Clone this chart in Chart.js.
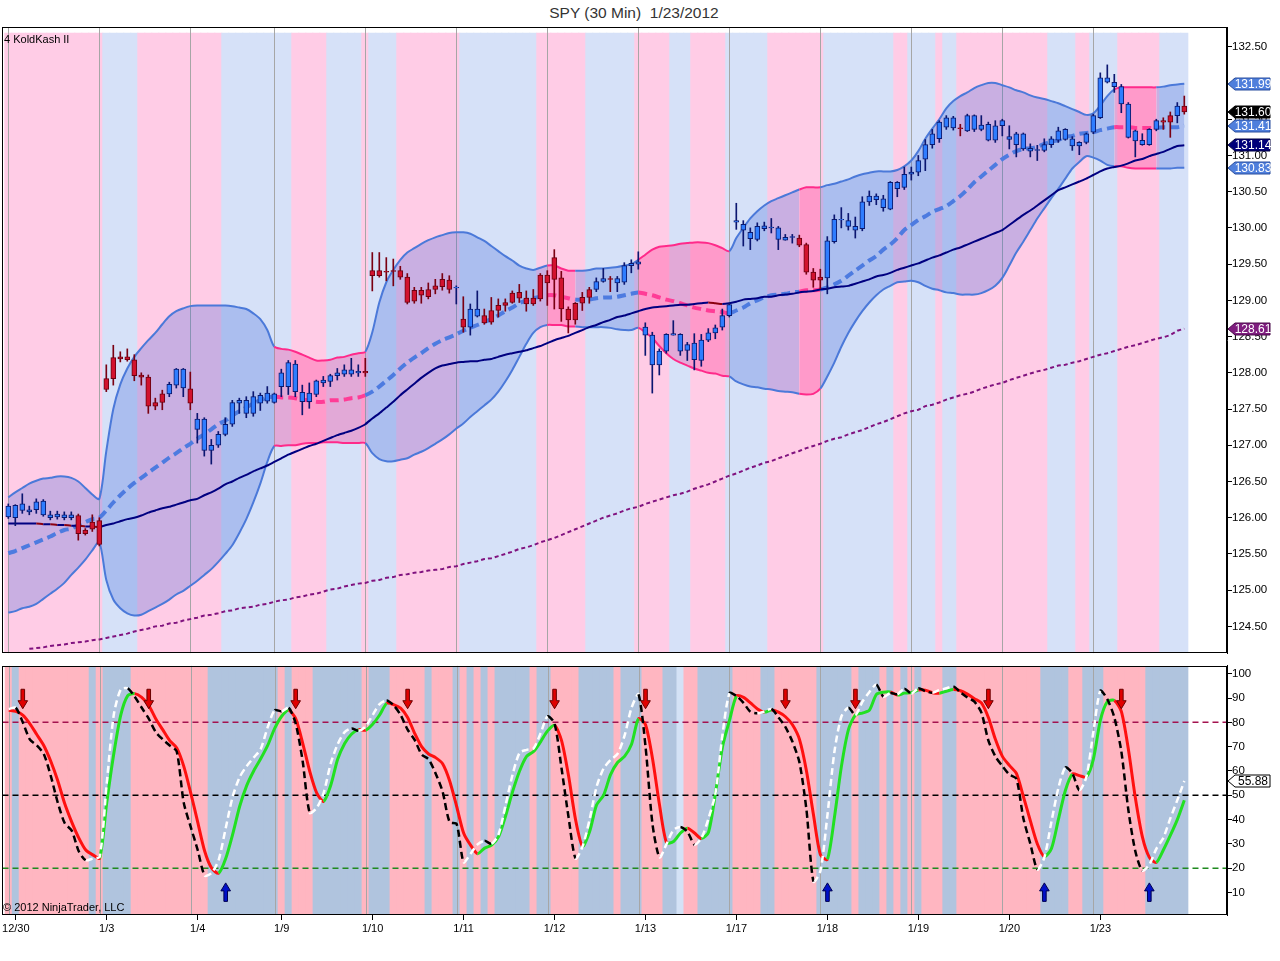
<!DOCTYPE html>
<html><head><meta charset="utf-8">
<script src="https://cdn.jsdelivr.net/npm/chart.js@4.4.1/dist/chart.umd.min.js"></script>
<style>
html,body{margin:0;padding:0;background:#fff;width:1280px;height:961px;overflow:hidden;font-family:"Liberation Sans",Arial,sans-serif;}
#title{position:absolute;left:0;top:4px;width:1268px;text-align:center;font-size:15.5px;color:#333;white-space:pre;}
#c1{position:absolute;left:0;top:0;}
#c2{position:absolute;left:0;top:659px;}
#ind{position:absolute;left:4px;top:33px;font-size:11px;color:#000;}
#copy{position:absolute;left:3px;top:901px;font-size:11px;color:#000;}
</style></head><body>
<div id="title">SPY (30 Min)  1/23/2012</div>
<canvas id="c1" width="1280" height="660"></canvas>
<canvas id="c2" width="1280" height="302"></canvas>
<div id="ind">4 KoldKash II</div>
<div id="copy">© 2012 NinjaTrader, LLC</div>
<script>
// ---------- DATA (30-min bars, index 0 = last bar of 12/29) ----------
const dayLabels = ['12/30','1/3','1/4','1/9','1/10','1/11','1/12','1/13','1/17','1/18','1/19','1/20','1/23'];
const dayStart  = [1,14,27,39,52,65,78,91,104,117,130,143,156];
const dayEnd    = [0,13,26,38,51,64,77,90,103,116,129,142,155];
const priceTicks = [124.5,125,125.5,126,126.5,127,127.5,128,128.5,129,129.5,130,130.5,131,131.5,132,132.5];
const oscTicks = [10,20,30,40,50,60,70,80,90,100];
const oscLevels = [80,50,20];
const sellArrows = [2,20,41,57,78,91,111,121,140,159];
const buyArrows = [31,117,148,163];

const opens = [126.01,126.00,126.10,126.08,126.11,126.04,126.00,126.01,126.00,126.00,
126.03,125.83,125.94,125.96,127.92,128.21,128.22,128.22,128.18,127.97,
127.94,127.59,127.71,127.71,127.83,127.79,127.78,127.22,126.93,126.93,
127.00,127.15,127.29,127.58,127.44,127.44,127.58,127.61,127.59,127.81,
127.81,127.74,127.60,127.60,127.70,127.86,127.88,127.96,127.98,127.98,
128.00,128.02,129.41,129.41,129.40,129.41,129.41,129.32,129.14,129.14,
129.15,129.20,129.29,129.28,129.17,128.74,128.63,128.78,128.79,128.86,
128.93,128.97,129.10,129.11,129.03,129.03,129.35,129.35,129.59,129.31,
128.88,128.96,129.04,129.15,129.15,129.26,129.30,129.24,129.25,129.48,
129.50,128.52,128.11,128.11,128.30,128.52,128.30,128.31,128.18,128.17,
128.45,128.55,128.63,128.79,130.08,129.97,129.85,129.84,129.99,130.00,
129.84,129.83,129.87,129.86,129.77,129.39,129.32,129.31,129.81,130.11,
130.02,129.97,129.99,130.36,130.39,130.28,130.26,130.54,130.56,130.74,
130.77,130.95,131.15,131.23,131.39,131.38,131.38,131.34,131.36,131.36,
131.21,131.21,131.41,131.22,131.15,131.09,131.06,131.07,131.07,131.15,
131.21,131.22,131.13,131.13,131.18,131.32,131.52,132.01,131.95,131.71,
131.25,131.20,131.15,131.15,131.36,131.48,131.55,131.55,131.68];
const highs = [126.19,126.18,126.33,126.16,126.26,126.25,126.09,126.09,126.08,126.08,
126.05,125.85,126.04,126.00,128.11,128.38,128.29,128.33,128.25,128.00,
127.97,127.65,127.76,127.87,128.06,128.06,128.01,127.44,127.38,127.08,
127.19,127.38,127.62,127.65,127.67,127.74,127.72,127.81,127.72,128.05,
128.17,128.17,127.83,127.86,127.90,127.95,127.98,128.06,128.11,128.20,
128.11,128.20,129.66,129.66,129.59,129.57,129.47,129.37,129.18,129.18,
129.24,129.29,129.37,129.34,129.20,129.05,128.95,129.13,128.88,129.04,
129.02,129.02,129.13,129.22,129.13,129.15,129.37,129.41,129.70,129.40,
128.91,128.97,129.11,129.18,129.31,129.44,129.33,129.33,129.52,129.56,
129.67,128.69,128.56,128.33,128.54,128.72,128.54,128.42,128.54,128.53,
128.61,128.66,128.88,128.96,130.34,130.10,130.00,130.07,130.08,130.13,
130.02,129.91,129.91,129.90,129.79,129.44,129.43,129.88,130.18,130.28,
130.20,130.15,130.43,130.51,130.47,130.45,130.64,130.64,130.84,130.84,
131.00,131.22,131.36,131.48,131.55,131.54,131.43,131.57,131.56,131.55,
131.46,131.48,131.50,131.41,131.32,131.31,131.16,131.14,131.23,131.26,
131.39,131.37,131.26,131.19,131.31,131.57,132.14,132.25,132.12,131.98,
131.73,131.35,131.30,131.37,131.50,131.52,131.60,131.73,131.82];
const lows = [125.99,125.89,126.06,126.04,126.06,126.02,125.97,125.98,125.97,125.97,
125.69,125.76,125.81,125.61,127.74,127.83,128.15,128.16,127.89,127.83,
127.44,127.49,127.49,127.67,127.79,127.67,127.49,127.03,126.85,126.74,
126.97,127.13,127.26,127.44,127.38,127.40,127.48,127.58,127.58,127.67,
127.70,127.67,127.42,127.51,127.67,127.81,127.81,127.90,127.95,127.95,
127.95,127.95,129.13,129.32,129.27,129.20,129.29,128.95,128.96,128.96,
129.02,129.09,129.14,129.10,128.95,128.56,128.52,128.77,128.67,128.67,
128.77,128.85,128.96,128.97,128.85,128.93,128.99,128.93,128.88,128.71,
128.55,128.67,128.86,128.96,129.12,129.25,129.12,129.12,129.22,129.38,
129.43,128.24,127.72,127.97,128.27,128.52,128.24,128.17,128.04,128.09,
128.43,128.47,128.59,128.77,129.98,129.75,129.70,129.82,129.96,129.93,
129.70,129.83,129.79,129.74,129.36,129.18,129.16,129.09,129.79,130.00,
129.97,129.86,129.96,130.31,130.32,130.23,130.25,130.43,130.53,130.66,
130.72,130.79,131.10,131.18,131.36,131.35,131.27,131.33,131.33,131.34,
131.20,131.18,131.27,131.09,130.98,131.07,130.98,130.93,131.05,131.11,
131.18,131.21,131.07,131.01,131.16,131.30,131.51,132.00,131.87,131.59,
131.24,130.98,131.14,131.14,131.34,131.36,131.25,131.45,131.57];
const closes = [126.16,126.17,126.19,126.11,126.22,126.23,126.04,126.05,126.04,126.04,
125.78,125.78,125.84,125.63,127.77,127.92,128.19,128.18,127.96,127.94,
127.54,127.54,127.59,127.84,128.05,128.05,127.58,127.36,127.36,127.00,
127.15,127.29,127.59,127.62,127.62,127.67,127.69,127.72,127.71,128.00,
128.14,128.12,127.73,127.72,127.89,127.90,127.96,128.00,128.04,128.04,
128.02,128.00,129.34,129.34,129.39,129.40,129.32,128.97,128.99,129.07,
129.05,129.15,129.19,129.15,129.18,128.63,128.88,128.88,128.69,128.70,
128.86,128.93,128.97,129.03,128.95,128.95,129.02,129.24,129.29,128.88,
128.73,128.73,128.96,129.04,129.26,129.30,129.29,129.30,129.48,129.51,
129.53,128.63,128.52,128.30,128.53,128.54,128.53,128.39,128.41,128.45,
128.55,128.62,128.79,128.94,130.10,130.05,129.94,130.02,130.03,130.01,
130.00,129.87,129.88,129.76,129.39,129.28,129.28,129.82,130.12,130.12,
130.10,130.02,130.36,130.44,130.44,130.40,130.63,130.63,130.74,130.77,
130.93,131.15,131.30,131.46,131.52,131.52,131.37,131.55,131.55,131.42,
131.43,131.41,131.48,131.26,131.30,131.30,131.10,131.08,131.15,131.23,
131.34,131.36,131.23,131.18,131.30,131.55,132.07,132.07,132.01,131.95,
131.71,131.34,131.21,131.36,131.48,131.46,131.46,131.68,131.60];

const bbUpper = [126.28,126.35,126.41,126.47,126.51,126.54,126.55,126.57,126.57,126.55,
126.50,126.41,126.32,126.26,126.92,127.50,127.84,128.06,128.22,128.34,
128.45,128.55,128.67,128.78,128.85,128.89,128.92,128.93,128.93,128.93,
128.93,128.93,128.92,128.90,128.88,128.82,128.74,128.59,128.36,128.33,
128.32,128.29,128.25,128.21,128.17,128.17,128.18,128.21,128.22,128.25,
128.27,128.29,128.56,128.97,129.25,129.42,129.56,129.66,129.72,129.78,
129.83,129.87,129.90,129.93,129.94,129.94,129.92,129.87,129.82,129.75,
129.68,129.61,129.55,129.48,129.44,129.42,129.45,129.48,129.48,129.44,
129.41,129.41,129.41,129.42,129.44,129.44,129.45,129.46,129.48,129.50,
129.56,129.63,129.70,129.74,129.75,129.76,129.78,129.79,129.80,129.80,
129.79,129.76,129.72,129.68,129.86,130.00,130.13,130.23,130.31,130.37,
130.41,130.45,130.49,130.53,130.56,130.56,130.56,130.59,130.61,130.64,
130.67,130.71,130.74,130.76,130.78,130.78,130.78,130.80,130.85,130.93,
131.06,131.23,131.37,131.50,131.65,131.75,131.82,131.87,131.93,131.97,
132.00,132.00,131.97,131.94,131.90,131.87,131.83,131.80,131.78,131.75,
131.72,131.68,131.64,131.60,131.56,131.58,131.69,131.82,131.91,131.94,
131.94,131.94,131.94,131.94,131.94,131.95,131.97,131.98,131.99];
const bbMid = [125.51,125.54,125.58,125.62,125.66,125.70,125.74,125.79,125.83,125.85,
125.90,125.94,125.98,126.00,126.10,126.21,126.31,126.40,126.48,126.55,
126.62,126.69,126.76,126.83,126.89,126.96,127.02,127.09,127.15,127.22,
127.29,127.34,127.41,127.47,127.52,127.58,127.62,127.66,127.67,127.66,
127.66,127.65,127.63,127.62,127.60,127.60,127.62,127.62,127.63,127.65,
127.66,127.69,127.74,127.81,127.89,127.97,128.06,128.14,128.21,128.27,
128.34,128.40,128.45,128.49,128.53,128.58,128.62,128.66,128.70,128.74,
128.79,128.85,128.90,128.96,129.00,129.03,129.05,129.07,129.07,129.05,
129.03,129.01,129.01,129.01,129.03,129.04,129.04,129.05,129.07,129.09,
129.11,129.09,129.07,129.04,129.01,128.99,128.96,128.93,128.90,128.88,
128.86,128.85,128.84,128.82,128.86,128.90,128.96,129.00,129.04,129.07,
129.08,129.09,129.11,129.12,129.14,129.14,129.15,129.18,129.22,129.27,
129.34,129.41,129.48,129.55,129.61,129.70,129.77,129.86,129.97,130.04,
130.11,130.16,130.22,130.26,130.30,130.37,130.44,130.53,130.63,130.71,
130.79,130.87,130.95,131.01,131.06,131.09,131.10,131.12,131.16,131.19,
131.21,131.26,131.27,131.30,131.31,131.32,131.35,131.37,131.39,131.39,
131.39,131.38,131.38,131.38,131.38,131.39,131.39,131.39,131.41];
const bbLower = [124.69,124.71,124.75,124.77,124.81,124.88,124.95,125.02,125.10,125.21,
125.31,125.42,125.55,125.66,125.14,124.87,124.75,124.68,124.65,124.66,
124.71,124.76,124.81,124.87,124.94,124.99,125.06,125.13,125.21,125.29,
125.39,125.50,125.62,125.79,125.98,126.21,126.47,126.77,126.99,126.99,
127.00,127.00,127.02,127.03,127.03,127.04,127.04,127.04,127.03,127.03,
127.03,127.03,126.89,126.81,126.78,126.78,126.80,126.82,126.87,126.91,
126.96,127.02,127.08,127.15,127.23,127.30,127.39,127.47,127.55,127.63,
127.74,127.88,128.04,128.22,128.40,128.55,128.63,128.66,128.66,128.66,
128.64,128.64,128.63,128.63,128.63,128.63,128.62,128.60,128.59,128.59,
128.62,128.56,128.48,128.37,128.27,128.19,128.14,128.10,128.06,128.03,
128.00,127.99,127.96,127.95,127.88,127.84,127.81,127.80,127.78,127.77,
127.75,127.74,127.73,127.71,127.70,127.71,127.78,127.95,128.14,128.36,
128.55,128.71,128.85,128.97,129.07,129.15,129.20,129.25,129.26,129.27,
129.25,129.20,129.16,129.14,129.11,129.10,129.08,129.08,129.08,129.10,
129.14,129.20,129.31,129.48,129.66,129.81,129.97,130.13,130.27,130.41,
130.54,130.68,130.82,130.91,130.99,130.97,130.93,130.87,130.85,130.85,
130.83,130.82,130.82,130.82,130.82,130.82,130.82,130.83,130.83];
const sma = [125.92,125.92,125.92,125.92,125.92,125.91,125.91,125.90,125.90,125.89,
125.89,125.88,125.88,125.87,125.90,125.92,125.95,125.98,126.00,126.03,
126.07,126.10,126.13,126.15,126.18,126.21,126.24,126.26,126.31,126.35,
126.40,126.46,126.50,126.55,126.59,126.64,126.68,126.72,126.77,126.82,
126.87,126.91,126.95,126.99,127.02,127.06,127.10,127.14,127.17,127.20,
127.24,127.29,127.37,127.44,127.52,127.60,127.69,127.77,127.85,127.93,
128.00,128.06,128.10,128.12,128.14,128.15,128.16,128.16,128.18,128.19,
128.22,128.25,128.27,128.29,128.31,128.34,128.37,128.41,128.45,128.48,
128.51,128.55,128.59,128.63,128.66,128.70,128.73,128.77,128.79,128.82,
128.85,128.88,128.90,128.91,128.92,128.93,128.94,128.94,128.95,128.96,
128.97,128.96,128.95,128.96,128.98,129.01,129.02,129.03,129.05,129.05,
129.07,129.08,129.09,129.11,129.12,129.13,129.15,129.16,129.18,129.19,
129.20,129.23,129.26,129.29,129.33,129.35,129.38,129.42,129.45,129.48,
129.51,129.55,129.59,129.62,129.66,129.70,129.73,129.77,129.81,129.85,
129.89,129.93,129.97,130.04,130.11,130.18,130.24,130.31,130.38,130.45,
130.52,130.56,130.60,130.64,130.68,130.73,130.78,130.82,130.84,130.86,
130.89,130.93,130.95,130.99,131.02,131.05,131.09,131.13,131.14];
const longMa = [null,null,null,124.19,124.20,124.21,124.23,124.24,124.25,124.27,
124.28,124.29,124.31,124.32,124.34,124.36,124.38,124.40,124.43,124.45,
124.47,124.50,124.51,124.54,124.55,124.58,124.60,124.62,124.65,124.66,
124.68,124.71,124.72,124.75,124.76,124.77,124.80,124.81,124.84,124.86,
124.87,124.90,124.91,124.94,124.95,124.98,125.01,125.02,125.05,125.07,
125.09,125.10,125.13,125.14,125.17,125.18,125.21,125.22,125.24,125.25,
125.27,125.28,125.29,125.32,125.33,125.36,125.38,125.40,125.43,125.44,
125.47,125.50,125.53,125.57,125.59,125.62,125.66,125.69,125.72,125.76,
125.80,125.84,125.88,125.92,125.96,126.00,126.03,126.06,126.10,126.13,
126.15,126.19,126.22,126.25,126.28,126.31,126.33,126.36,126.40,126.43,
126.46,126.50,126.54,126.58,126.61,126.65,126.69,126.72,126.76,126.78,
126.82,126.85,126.89,126.92,126.96,126.99,127.02,127.06,127.09,127.11,
127.15,127.18,127.21,127.25,127.29,127.32,127.36,127.40,127.44,127.47,
127.49,127.54,127.56,127.59,127.63,127.66,127.69,127.71,127.74,127.78,
127.81,127.84,127.86,127.90,127.93,127.96,127.99,128.02,128.04,128.07,
128.10,128.11,128.14,128.16,128.19,128.22,128.25,128.27,128.30,128.33,
128.36,128.38,128.41,128.44,128.47,128.49,128.52,128.58,128.61];
// 1 = band squeeze (pink) for the segment starting at that bar
const squeeze = [0,0,0,0,0,0,0,0,0,0, 0,0,0,0,0,0,0,0,0,0, 0,0,0,0,0,0,0,0,0,0,
0,0,0,0,0,0,0,0,1,1, 1,1,1,1,1,1,1,1,1,1, 1,0,0,0,0,0,0,0,0,0,
0,0,0,0,0,0,0,0,0,0, 0,0,0,0,0,0,0,1,1,1, 1,0,0,0,0,0,0,0,0,0,
1,1,1,1,1,1,1,1,1,1, 1,1,1,0,0,0,0,0,0,0, 0,0,0,1,1,1,0,0,0,0,
0,0,0,0,0,0,0,0,0,0, 0,0,0,0,0,0,0,0,0,0, 0,0,0,0,0,0,0,0,0,0,
0,0,0,0,0,0,0,0,1,1, 1,1,1,1,0,0,0,0,0];
// top panel bar shading: 1 = pink, 0 = blue
const topShade = [1,1,1,1,1,1,1,1,1,1, 1,1,1,1,0,0,0,0,0,1, 1,1,1,1,1,1,1,1,1,1,
1,0,0,0,0,0,0,0,0,0, 0,1,1,1,1,1,0,0,0,0, 0,1,0,0,0,0,1,1,1,1,
1,1,1,1,1,0,0,0,0,0, 0,0,0,0,0,0,1,1,1,1, 1,1,1,0,0,0,0,0,0,0,
1,1,1,1,1,0,0,0,1,1, 1,1,1,0,0,0,0,0,0,1, 1,1,1,1,1,1,1,0,0,0,
0,0,0,0,0,0,0,1,1,0, 0,0,0,1,0,0,1,1,1,1, 1,1,1,1,1,1,1,1,1,0,
0,0,0,1,1,0,0,0,0,1, 1,1,1,1,1,0,0,0,0];
// oscillator panel shading: 1 = pink, 0 = steel blue, 2 = pale
const oscShade = [1,0,1,1,1,1,1,1,1,1, 1,1,0,1,0,0,0,0,1,1, 1,1,1,1,1,1,1,1,1,0,
0,0,0,0,0,0,0,0,0,1, 0,1,1,1,0,0,0,0,0,0, 0,1,0,0,0,1,1,1,1,1,
0,1,1,1,0,1,0,1,0,1, 0,0,0,0,0,1,0,0,1,1, 1,1,0,0,0,0,0,1,0,0,
0,1,1,1,0,0,2,1,1,0, 0,0,0,0,1,1,1,1,0,0, 1,1,1,1,1,1,0,0,0,0,
0,1,0,0,0,1,0,1,0,1, 0,1,1,1,0,0,1,1,1,1, 1,1,1,1,1,1,1,1,0,0,
0,0,1,1,0,0,0,1,1,1, 1,1,1,0,0,0,0,0,0];
const slowLine = [85,84.5,83,79.5,75,70.5,64,56,46.5,39, 32.5,27.5,25.5,24.2,47,67,83,91,91.8,90.3,
87,81.5,77,72.5,69.5,62,51,39,27,20, 18,24,34,45.5,54,60,65,70.5,77.5,82.5,
85,81.5,71.5,60,51,47.5,54,64.8,71.3,75.2, 77,76.8,79.2,83,87.8,87.3,85.8,82,75.5,70,
67,65.5,63,56,45.5,34.5,29.5,26,28.3,29.5, 33,41.5,51.5,60,66,68,72,76.5,78.8,72.5,
58,40,29,35,46,50,58.5,63.5,66,71, 81.5,79,65,46,30.5,31,34.5,36.5,34.5,32.2,
34.8,51,70,80.8,90.8,90.3,88,85.5,84.2,85.1, 84.2,82.3,79,73,60,42,25.5,23.7,41,62,
77,83,83.8,85,91.5,92.4,92.5,91.2,92,92.2, 93.3,93.2,92.2,92,92.8,93.5,93,91.6,89.7,88,
82,73,66,62.3,59,49.5,39.5,30,24.8,28, 40,52,58.8,58.1,57.5,64.8,80.8,88.5,89,84.5,
69,49,33,24.5,22.4,27.5,33.5,40,48];
const fastLine = [85.5,86,80,73,70.5,67,58,47,38.5,35.5, 27,23.3,24,24.8,55,83,93.5,94,90.5,86,
81.5,76,73,70.5,68,47,37,27.5,17,18.1, 23.5,36.5,49.5,57.5,62,65.5,69,78,85,84.5,
86,79.5,64,42.8,44.8,51,63,71,76,77.5, 76.5,78.3,83,87.5,89,87,83,77,72.8,66.8,
64.8,59,51.5,39,38.2,22.5,26,29.8,31.3,30.1, 34,46,58.5,67.5,68.7,69.3,75.5,82.5,79.5,61,
41,24,29,40,53.5,61,64.5,67,74.5,86, 91.5,70,38,24.5,30,35.8,37,35,29.7,32.5,
40.5,51,75,92,90.8,88,84.3,83.7,84.5,85.5, 82,78,72,63.5,44,14.5,19,42,68,82.5,
86,83,88.5,92.5,95.5,90.5,92,91.6,93.8,91.8, 94,92.8,92.2,93.3,94,94.8,92.3,90.2,88.5,84,
72.5,66,62,58.5,56.8,40.5,30,19.5,24.5,39, 53,61.5,59,52.1,57.5,76,93,89.5,82,68,
44,27,19,21.5,28,32.5,40.5,48,55.88];

// ---------- styling ----------
Chart.defaults.font.family = '"Liberation Sans", Arial, sans-serif';
Chart.defaults.font.size = 11;
Chart.defaults.color = '#000';

const X_MIN = -0.9, X_MAX = 174.1;           // visible bar-index range
const P_MIN = 124.131, P_MAX = 132.773, P_SHADE_TOP = 132.69;
const O_MIN = 0.8, O_MAX = 103.2;
const idx = opens.map((_, i) => i);
const pts = arr => arr.map((v, i) => ({x: i, y: v}));

const TOP_PINK = '#ffcce6', TOP_BLUE = '#d6e1f8';
const OSC_PINK = '#ffb6c1', OSC_BLUE = '#b0c4de', OSC_PALE = '#d4e2f6';
const BAND_BLUE = '#4b79d9', BAND_PINK = '#ff2a8a';
const FILL_BLUE = 'rgba(60,100,215,0.28)', FILL_PINK = 'rgba(255,40,140,0.30)';

const sessionLines = {
  id: 'sessionLines',
  afterDatasetDraw(chart, args) {
    if (args.index !== 0) return;
    const {ctx, chartArea: a, scales: {x}} = chart;
    ctx.save(); ctx.strokeStyle = '#a6a6a6'; ctx.lineWidth = 1;
    dayEnd.forEach(v => {
      const px = Math.round(x.getPixelForValue(v)) + 0.5;
      ctx.beginPath(); ctx.moveTo(px, a.top); ctx.lineTo(px, a.bottom); ctx.stroke();
    });
    ctx.restore();
  }
};
const frame = {
  id: 'frame',
  afterDraw(chart) {
    const {ctx, chartArea: a} = chart;
    ctx.save(); ctx.strokeStyle = '#000'; ctx.lineWidth = 1;
    ctx.strokeRect(Math.round(a.left) + 0.5, Math.round(a.top) + 0.5,
                   Math.round(a.right - a.left) - 1, Math.round(a.bottom - a.top) - 1);
    ctx.restore();
  }
};
function drawTag(ctx, xTip, y, text, bg, fg, bd) {
  const tip = 7, w = 35, h = 12;
  ctx.beginPath();
  ctx.moveTo(xTip, y); ctx.lineTo(xTip + tip, y - h / 2); ctx.lineTo(xTip + tip + w, y - h / 2);
  ctx.lineTo(xTip + tip + w, y + h / 2); ctx.lineTo(xTip + tip, y + h / 2); ctx.closePath();
  ctx.fillStyle = bg; ctx.fill(); ctx.strokeStyle = bd; ctx.lineWidth = 1; ctx.stroke();
  ctx.fillStyle = fg; ctx.font = '12px "Liberation Sans", Arial, sans-serif';
  ctx.textAlign = 'center'; ctx.textBaseline = 'middle';
  ctx.fillText(text, xTip + tip + w / 2 + 0.5, y + 0.5);
}
function tagPlugin(list) {
  return {
    id: 'tags',
    afterDraw(chart) {
      const {ctx, scales: {y}} = chart;
      ctx.save();
      list.forEach(t => drawTag(ctx, y.left + 1, Math.round(y.getPixelForValue(t.v)), t.v.toFixed(2), t.bg, t.fg, t.bd));
      ctx.restore();
    }
  };
}
const arrowPlugin = {
  id: 'arrows',
  afterDatasetsDraw(chart) {
    const {ctx, scales: {x, y}} = chart;
    ctx.save(); ctx.lineWidth = 1;
    const sw = 1.8, hw = 4.8, hl = 8;
    sellArrows.forEach(i => {
      const px = x.getPixelForValue(i), t = y.getPixelForValue(93.6), tip = y.getPixelForValue(85.6);
      ctx.beginPath();
      ctx.moveTo(px - sw, t); ctx.lineTo(px + sw, t); ctx.lineTo(px + sw, tip - hl); ctx.lineTo(px + hw, tip - hl);
      ctx.lineTo(px, tip); ctx.lineTo(px - hw, tip - hl); ctx.lineTo(px - sw, tip - hl); ctx.closePath();
      ctx.fillStyle = '#e00000'; ctx.fill(); ctx.strokeStyle = '#6a0000'; ctx.stroke();
    });
    buyArrows.forEach(i => {
      const px = x.getPixelForValue(i), b = y.getPixelForValue(6.4), tip = y.getPixelForValue(14);
      ctx.beginPath();
      ctx.moveTo(px - sw, b); ctx.lineTo(px + sw, b); ctx.lineTo(px + sw, tip + hl); ctx.lineTo(px + hw, tip + hl);
      ctx.lineTo(px, tip); ctx.lineTo(px - hw, tip + hl); ctx.lineTo(px - sw, tip + hl); ctx.closePath();
      ctx.fillStyle = '#0010c8'; ctx.fill(); ctx.strokeStyle = '#000050'; ctx.stroke();
    });
    ctx.restore();
  }
};

const up = i => closes[i] >= opens[i];

// ---------- price panel ----------
new Chart(document.getElementById('c1'), {
  type: 'line',
  data: { datasets: [
    { type: 'bar', data: idx.map(i => ({x: i, y: [P_MIN, P_SHADE_TOP]})), grouped: false,
      backgroundColor: topShade.map(s => s ? TOP_PINK : TOP_BLUE), barThickness: 7.4, borderWidth: 0, order: 100 },
    { data: pts(bbUpper), fill: '+1', borderWidth: 2, pointRadius: 0, tension: 0.3, order: 50,
      borderColor: BAND_BLUE, backgroundColor: FILL_BLUE,
      segment: { borderColor: c => squeeze[c.p0DataIndex] ? BAND_PINK : BAND_BLUE,
                 backgroundColor: c => squeeze[c.p0DataIndex] ? FILL_PINK : FILL_BLUE } },
    { data: pts(bbLower), fill: false, borderWidth: 2, pointRadius: 0, tension: 0.3, order: 49,
      borderColor: BAND_BLUE, segment: { borderColor: c => squeeze[c.p0DataIndex] ? BAND_PINK : BAND_BLUE } },
    { data: pts(bbMid), fill: false, borderWidth: 4, borderDash: [9, 5], pointRadius: 0, tension: 0.3, order: 40,
      borderColor: '#4d7be0', segment: { borderColor: c => squeeze[c.p0DataIndex] ? '#ff3c96' : '#4d7be0' } },
    { data: pts(longMa), fill: false, borderWidth: 2, borderDash: [4, 3], pointRadius: 0, order: 35, borderColor: '#80127f' },
    { data: pts(sma), fill: false, borderWidth: 2, pointRadius: 0, tension: 0.2, order: 30, borderColor: '#000080',
      segment: { borderColor: c => c.p1.parsed.y < c.p0.parsed.y ? '#8b0010' : '#000080' } },
    { type: 'bar', data: idx.map(i => ({x: i, y: [lows[i], highs[i]]})), grouped: false, barThickness: 1,
      backgroundColor: idx.map(i => up(i) ? '#0b1670' : '#7a0012'), borderWidth: 0, order: 2 },
    { type: 'bar', data: idx.map(i => ({x: i, y: [opens[i], closes[i]]})), grouped: false, barThickness: 5,
      backgroundColor: idx.map(i => up(i) ? '#2f7dff' : '#d2122e'),
      borderColor: idx.map(i => up(i) ? '#0b1a6e' : '#6a0010'), borderWidth: 1, borderSkipped: false, order: 1 }
  ]},
  options: {
    responsive: false, animation: false, devicePixelRatio: 1, events: [],
    layout: { padding: { left: 2, top: 27, right: 0, bottom: 1 } },
    plugins: { legend: { display: false }, tooltip: { enabled: false } },
    scales: {
      x: { type: 'linear', min: X_MIN, max: X_MAX, display: false, offset: false },
      y: { type: 'linear', position: 'right', min: P_MIN, max: P_MAX,
           afterFit: s => { s.width = 53; },
           afterBuildTicks: s => { s.ticks = priceTicks.map(v => ({value: v})); },
           ticks: { callback: v => Number(v).toFixed(2), padding: 0, color: '#000', font: { size: 11.5 } },
           grid: { drawOnChartArea: false, drawTicks: true, tickLength: 5, tickColor: '#000' },
           border: { display: true, color: '#000' } }
    }
  },
  plugins: [sessionLines, frame, tagPlugin([
    { v: bbUpper.at(-1), bg: '#4f7fdc', fg: '#fff', bd: '#2b4f9e' },
    { v: closes.at(-1), bg: '#000', fg: '#fff', bd: '#000' },
    { v: bbMid.at(-1), bg: '#4f7fdc', fg: '#fff', bd: '#2b4f9e' },
    { v: sma.at(-1), bg: '#00007a', fg: '#fff', bd: '#000040' },
    { v: bbLower.at(-1), bg: '#4f7fdc', fg: '#fff', bd: '#2b4f9e' },
    { v: longMa.at(-1), bg: '#7f1d7f', fg: '#fff', bd: '#4a0a4a' }
  ])]
});

// ---------- oscillator panel ----------
new Chart(document.getElementById('c2'), {
  type: 'line',
  data: { datasets: [
    { type: 'bar', data: idx.map(i => ({x: i, y: [O_MIN, O_MAX]})), grouped: false,
      backgroundColor: oscShade.map(s => s === 1 ? OSC_PINK : (s === 2 ? OSC_PALE : OSC_BLUE)),
      barThickness: 7.4, borderWidth: 0, order: 100 },
    ...oscLevels.map((lv, k) => ({
      data: [{x: X_MIN, y: lv}, {x: X_MAX, y: lv}], fill: false, pointRadius: 0, borderWidth: 1.5,
      borderDash: [6, 4], order: 60, borderColor: ['#a3124f', '#000000', '#1f8a1f'][k] })),
    { data: pts(slowLine), fill: false, borderWidth: 3, pointRadius: 0, tension: 0.25, order: 20, borderColor: '#ff0000',
      segment: { borderColor: c => c.p1.parsed.y > c.p0.parsed.y ? '#22e022' : '#ff1010' } },
    { data: pts(fastLine), fill: false, borderWidth: 2.5, borderDash: [7, 4], pointRadius: 0, tension: 0.25, order: 10,
      borderColor: '#000', segment: { borderColor: c => c.p1.parsed.y > c.p0.parsed.y ? '#ffffff' : '#000000' } }
  ]},
  options: {
    responsive: false, animation: false, devicePixelRatio: 1, events: [],
    layout: { padding: { left: 2, top: 0, right: 0, bottom: 16 } },
    plugins: { legend: { display: false }, tooltip: { enabled: false } },
    scales: {
      x: { type: 'linear', min: X_MIN, max: X_MAX, offset: false,
           afterFit: s => { s.height = 30; },
           afterBuildTicks: s => { s.ticks = dayStart.map(v => ({value: v})); },
           ticks: { autoSkip: false, maxRotation: 0, minRotation: 0, padding: 2, color: '#000',
                    callback: v => { const k = dayStart.indexOf(v); return k >= 0 ? dayLabels[k] : ''; } },
           grid: { drawOnChartArea: false, drawTicks: true, tickLength: 5, tickColor: '#000', offset: false },
           border: { display: false } },
      y: { type: 'linear', position: 'right', min: O_MIN, max: O_MAX,
           afterFit: s => { s.width = 53; },
           afterBuildTicks: s => { s.ticks = oscTicks.map(v => ({value: v})); },
           ticks: { callback: v => String(v), padding: 0, color: '#000', font: { size: 11.5 } },
           grid: { drawOnChartArea: false, drawTicks: true, tickLength: 5, tickColor: '#000' },
           border: { display: true, color: '#000' } }
    }
  },
  plugins: [sessionLines, arrowPlugin, frame, tagPlugin([
    { v: fastLine.at(-1), bg: '#ffffff', fg: '#000', bd: '#000' }
  ])]
});
</script>
</body></html>
